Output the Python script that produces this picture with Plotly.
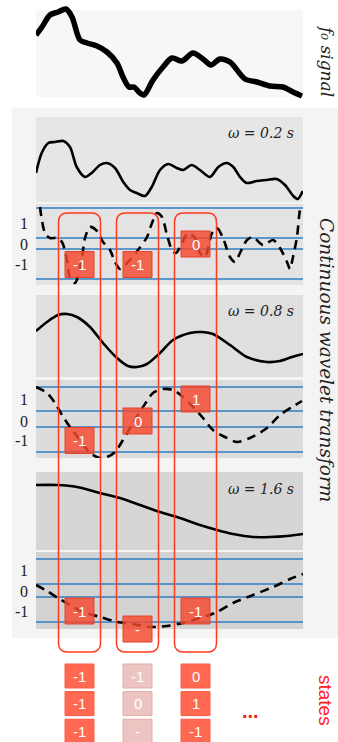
import plotly.graph_objects as go

W, H = 338, 742

# ---------------- data ----------------
# f0 contour (time in s, Hz)
t_f0 = [0, 0.06, 0.14, 0.22, 0.30, 0.36, 0.44, 0.51, 0.61, 0.71, 0.81, 0.87, 0.93, 0.98, 1.04, 1.08,
        1.17, 1.27, 1.36, 1.46, 1.57, 1.67, 1.75, 1.84, 1.94, 2.01, 2.09, 2.21, 2.34, 2.47, 2.57, 2.66]
f0_hz = [162, 170, 182, 185, 188, 180, 157, 154, 151, 145, 134, 120, 110, 110, 104, 102,
         117, 130, 139, 136, 144, 138, 132, 138, 135, 127, 118, 115, 111, 110, 105, 101]

# CWT component, scale 0.2 s
t_s1 = [0, 0.057, 0.123, 0.19, 0.273, 0.34, 0.407, 0.49, 0.557, 0.64, 0.707, 0.79, 0.873, 0.94, 1.007, 1.09,
        1.157, 1.24, 1.323, 1.407, 1.473, 1.557, 1.64, 1.74, 1.823, 1.907, 1.973, 2.04, 2.107, 2.207, 2.307,
        2.407, 2.49, 2.573, 2.617, 2.667]
cwt_s1 = [-13, 7, 17, 18, 19, 13, -7, -17, -13, -5, -3, -8, -22, -30, -33, -36,
          -27, -10, -4, -8, -10, -5, -10, -17, -7, -3, -7, -17, -23, -21, -20,
          -19, -25, -36, -39, -31]
td_s1 = [0.04, 0.09, 0.14, 0.21, 0.26, 0.31, 0.34, 0.39, 0.46, 0.49, 0.54, 0.61, 0.67, 0.74, 0.79, 0.84,
         0.92, 1.02, 1.11, 1.16, 1.21, 1.26, 1.31, 1.36, 1.40, 1.46, 1.52, 1.59, 1.64, 1.69, 1.76, 1.81,
         1.87, 1.94, 1.99, 2.04, 2.11, 2.17, 2.27, 2.37, 2.44, 2.51, 2.54, 2.57, 2.61, 2.64, 2.66]
dcwt_s1 = [37, 11, 6, 6, 2, -16, -34, -39, -13, 6, 17, 13, 2, -6, -18, -25,
           -18, -6, 7, 21, 31, 27, 9, -6, -9, 1, 11, 6, -9, -13, 11, 16,
           6, -13, -18, -9, 4, 7, -1, 4, -4, -18, -25, -13, 7, 34, 39]

# CWT component, scale 0.8 s
t_s2 = [0, 0.11, 0.22, 0.31, 0.41, 0.54, 0.67, 0.81, 0.92, 1.01, 1.11, 1.24, 1.37, 1.54, 1.66, 1.77,
        1.94, 2.11, 2.31, 2.44, 2.56, 2.67]
cwt_s2 = [5, 14, 21, 22, 19, 9, -7, -22, -30, -31, -28, -17, -4, 3, 4, 2, -9, -21, -26, -25, -21, -18]
td_s2 = [0, 0.11, 0.19, 0.26, 0.34, 0.44, 0.54, 0.64, 0.71, 0.79, 0.87, 0.97, 1.07, 1.17, 1.27, 1.37,
         1.46, 1.57, 1.67, 1.77, 1.91, 2.01, 2.14, 2.31, 2.44, 2.56, 2.66]
dcwt_s2 = [32, 26, 16, 4, -8, -21, -34, -39, -38, -33, -21, -4, 12, 26, 30, 29,
           23, 12, 1, -11, -19, -23, -19, -9, 4, 12, 18]

# CWT component, scale 1.6 s
t_s3 = [0, 0.21, 0.41, 0.64, 0.84, 1.04, 1.24, 1.44, 1.64, 1.81, 1.97, 2.17, 2.34, 2.51, 2.67]
cwt_s3 = [26, 26, 24, 18, 13, 6, -1, -7, -14, -19, -23, -26, -26, -25, -23]
td_s3 = [0, 0.11, 0.22, 0.34, 0.47, 0.64, 0.81, 0.97, 1.14, 1.31, 1.47, 1.64, 1.81, 1.97, 2.17, 2.37, 2.54, 2.67]
dcwt_s3 = [6, 0, -7, -14, -21, -26, -31, -33, -36, -35, -32, -27, -21, -12, -4, 4, 12, 17]

scale_labels = ["ω = 0.2 s", "ω = 0.8 s", "ω = 1.6 s"]
thresholds = [[36, 6, -5, -35], [32, 8, -8, -33], [32, 7, -6, -31]]
level_names = ["1", "0", "-1"]
level_y = [{"1": 21, "0": 0, "-1": -20.5, "-": -40},
           {"1": 20, "0": -2, "-1": -21.5, "-": -40},
           {"1": 21, "0": 0, "-1": -20, "-": -38}]
state_t = [0.435, 1.015, 1.595]
scale_states = [["-1", "-1", "0"], ["-1", "0", "1"], ["-1", "-", "-1"]]
column_valid = [True, False, True]

# ---------------- layout geometry (pixels) ----------------
def pdom(top, bottom):
    return [1 - bottom / H, 1 - top / H]


def py(p):
    return 1 - p / H


X_DOM = [36 / W, 303 / W]
T_RANGE = [0, 2.67]

curves = [(t_s1, cwt_s1, td_s1, dcwt_s1), (t_s2, cwt_s2, td_s2, dcwt_s2), (t_s3, cwt_s3, td_s3, dcwt_s3)]
geom = [
    dict(up=(117, 202), ur=[-42, 43], lo=(204, 285), lr=[-41, 40], lbg=[-41, 40], cu="#e6e6e6", cl="#e3e3e3", lab=27),
    dict(up=(295, 377), ur=[-41, 41], lo=(380, 458), lr=[-39, 39], lbg=[-39, 39], cu="#dfdfdf", cl="#dcdcdc", lab=25),
    dict(up=(472, 550), ur=[-39, 39], lo=(552, 645), lr=[-54, 39], lbg=[-38, 39], cu="#d6d6d6", cl="#d3d3d3", lab=22),
]

fig = go.Figure()
shapes = []
annotations = []

layout_axes = dict(
    xaxis=dict(domain=X_DOM, range=T_RANGE, visible=False, anchor="y", fixedrange=True),
    yaxis=dict(domain=pdom(2, 105), range=[92, 195], visible=False, anchor="x", fixedrange=True),
)

# outer CWT panel
shapes.append(dict(type="rect", xref="paper", yref="paper", x0=12 / W, x1=1, y0=py(638), y1=py(108),
                   fillcolor="#f4f4f4", line=dict(width=0), layer="below"))
# f0 panel
shapes.append(dict(type="rect", xref="x domain", yref="y", x0=0, x1=1, y0=100, y1=187,
                   fillcolor="#f7f7f7", line=dict(width=0), layer="below"))
fig.add_trace(go.Scatter(x=t_f0, y=f0_hz, mode="lines", xaxis="x", yaxis="y",
                         line=dict(color="black", width=5.5, shape="spline", smoothing=0.9),
                         hoverinfo="skip", showlegend=False))

serif = "DejaVu Serif"
for i, g in enumerate(geom):
    ku, kl = 2 + 2 * i, 3 + 2 * i
    yu, yl = f"y{ku}", f"y{kl}"
    layout_axes[f"yaxis{ku}"] = dict(domain=pdom(*g["up"]), range=g["ur"], visible=False, anchor="x", fixedrange=True)
    layout_axes[f"yaxis{kl}"] = dict(domain=pdom(*g["lo"]), range=g["lr"], visible=False, anchor="x", fixedrange=True)
    shapes.append(dict(type="rect", xref="x domain", yref=f"{yu} domain", x0=0, x1=1, y0=0, y1=1,
                       fillcolor=g["cu"], line=dict(width=0), layer="below"))
    shapes.append(dict(type="rect", xref="x domain", yref=yl, x0=0, x1=1, y0=g["lbg"][0], y1=g["lbg"][1],
                       fillcolor=g["cl"], line=dict(width=0), layer="below"))
    for th in thresholds[i]:
        shapes.append(dict(type="line", xref="x domain", yref=yl, x0=0, x1=1, y0=th, y1=th,
                           line=dict(color="#2f7fc1", width=1.3), layer="below"))
    t, v, td, dv = curves[i]
    fig.add_trace(go.Scatter(x=t, y=v, mode="lines", xaxis="x", yaxis=yu,
                             line=dict(color="black", width=2.6, shape="spline", smoothing=0.8),
                             hoverinfo="skip", showlegend=False))
    fig.add_trace(go.Scatter(x=td, y=dv, mode="lines", xaxis="x", yaxis=yl,
                             line=dict(color="black", width=2.6, shape="spline", smoothing=0.8, dash="9px,6px"),
                             hoverinfo="skip", showlegend=False))
    annotations.append(dict(text=f"<i>{scale_labels[i]}</i>", xref="x domain", yref=yu, x=0.975, y=g["lab"],
                            xanchor="right", yanchor="middle", showarrow=False,
                            font=dict(family=serif, size=14, color="#222")))
    for name in level_names:
        annotations.append(dict(text=name, xref="paper", yref=yl, x=30 / W, y=level_y[i][name],
                                xanchor="right", yanchor="middle", showarrow=False,
                                font=dict(family="Liberation Serif", size=16, color="#222")))
    for c, tc in enumerate(state_t):
        s = scale_states[i][c]
        cy = level_y[i][s]
        shapes.append(dict(type="rect", xref="x", yref=yl, x0=tc - 0.145, x1=tc + 0.145, y0=cy - 13, y1=cy + 13,
                           fillcolor="rgba(246,72,45,0.82)", line=dict(color="#e8402a", width=1), layer="above"))
        annotations.append(dict(text=s, xref="x", yref=yl, x=tc, y=cy, showarrow=False,
                                xanchor="center", yanchor="middle",
                                font=dict(family="Liberation Sans", size=15, color="white")))


def rrect_path(x0, x1, y0, y1, rx, ry):
    return (f"M {x0 + rx},{y1} L {x1 - rx},{y1} Q {x1},{y1} {x1},{y1 - ry} "
            f"L {x1},{y0 + ry} Q {x1},{y0} {x1 - rx},{y0} L {x0 + rx},{y0} Q {x0},{y0} {x0},{y0 + ry} "
            f"L {x0},{y1 - ry} Q {x0},{y1} {x0 + rx},{y1} Z")


for tc in state_t:
    shapes.append(dict(type="path", xref="x", yref="paper",
                       path=rrect_path(tc - 0.21, tc + 0.21, py(652), py(213), 0.09, 9 / H),
                       line=dict(color="#ff3b1f", width=1.5), fillcolor="rgba(0,0,0,0)", layer="above"))

# state vectors at the bottom
row_tops = [664, 691.6, 719.2]
for c, tc in enumerate(state_t):
    for r in range(3):
        s = scale_states[r][c]
        if column_valid[c]:
            fill, edge = "rgba(255,88,62,0.9)", "#ff5a45"
        else:
            fill, edge = "#ecc5c3", "#e6aaa5"
        shapes.append(dict(type="rect", xref="x", yref="paper", x0=tc - 0.145, x1=tc + 0.145,
                           y0=py(row_tops[r] + 24), y1=py(row_tops[r]),
                           fillcolor=fill, line=dict(color=edge, width=1), layer="above"))
        annotations.append(dict(text=s, xref="x", yref="paper", x=tc, y=py(row_tops[r] + 12), showarrow=False,
                                xanchor="center", yanchor="middle",
                                font=dict(family="Liberation Sans", size=15, color="white")))

annotations.append(dict(text="<b>...</b>", xref="x", yref="paper", x=state_t[2] + (state_t[2] - state_t[1]) - 0.03,
                        y=py(711), xanchor="center", yanchor="middle", showarrow=False,
                        font=dict(family="Liberation Sans", size=20, color="#ff1a1a")))

# side titles
annotations.append(dict(text="<i>f₀ signal</i>", xref="paper", yref="paper", x=327 / W, y=py(61),
                        xanchor="center", yanchor="middle",
                        textangle=90, showarrow=False, font=dict(family=serif, size=17, color="#222")))
annotations.append(dict(text="<i>Continuous wavelet transform</i>", xref="paper", yref="paper", x=327 / W,
                        y=py(360), xanchor="center", yanchor="middle",
                        textangle=90, showarrow=False, font=dict(family=serif, size=18.5, color="#222")))
annotations.append(dict(text="states", xref="paper", yref="paper", x=326 / W, y=py(700),
                        xanchor="center", yanchor="middle",
                        textangle=90, showarrow=False, font=dict(family="Liberation Sans", size=19, color="#ff1a1a")))

fig.update_layout(
    width=W, height=H, margin=dict(l=0, r=0, t=0, b=0),
    paper_bgcolor="white", plot_bgcolor="rgba(0,0,0,0)",
    shapes=shapes, annotations=annotations, showlegend=False,
    **layout_axes,
)

fig.write_html("out.html", config={"displayModeBar": False},
               post_script="document.body.style.margin='0';document.body.style.overflow='hidden';")
